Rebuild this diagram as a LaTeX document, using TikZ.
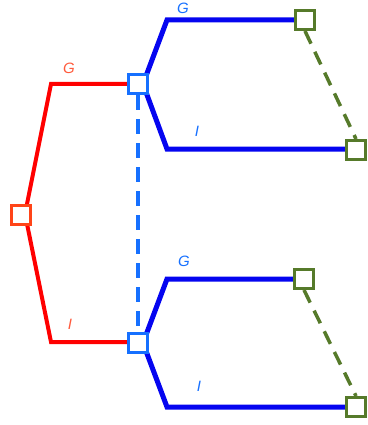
\documentclass[tikz,border=0pt]{standalone}
\usepackage{fontspec}
\setmainfont{Liberation Sans}
\begin{document}
\definecolor{treered}{HTML}{FF0000}
\definecolor{rootsq}{HTML}{FF4418}
\definecolor{redlabel}{HTML}{FF5A3C}
\definecolor{branchblue}{HTML}{0505F0}
\definecolor{infoblue}{HTML}{1670FF}
\definecolor{leafgreen}{HTML}{567A2A}
\begin{tikzpicture}[x=1pt,y=-1pt,
  redline/.style={draw=treered,line width=4pt,line join=miter},
  blueline/.style={draw=branchblue,line width=5pt,line join=miter},
  sq/.style={draw,fill=white,line width=3pt,minimum size=19pt,inner sep=0pt,rectangle},
  rootbox/.style={sq,draw=rootsq},
  infobox/.style={sq,draw=infoblue},
  leafbox/.style={sq,draw=leafgreen},
  infodash/.style={draw=infoblue,line width=3.5pt,dash pattern=on 15pt off 9pt},
  leafdash/.style={draw=leafgreen,line width=3.5pt,dash pattern=on 14pt off 9pt},
  lbl/.style={font=\fontsize{15}{15}\selectfont\itshape,inner sep=0pt},
  redlbl/.style={lbl,text=redlabel},
  bluelbl/.style={lbl,text=infoblue}]
\useasboundingbox (0,0) rectangle (367,425);

% branch vertices
\coordinate (r0) at (25,214);
\coordinate (rc1) at (51,84);
\coordinate (rc2) at (51,342);
\coordinate (a0) at (143,84);
\coordinate (b0) at (143,343);
\coordinate (ac1) at (167,20);
\coordinate (ac2) at (167,149);
\coordinate (bc1) at (167,279);
\coordinate (bc2) at (167,407);

% chance branches
\draw[redline] (r0) -- (rc1) -- (138,84);
\draw[redline] (r0) -- (rc2) -- (138,342);

% decision branches
\draw[blueline] (a0) -- (ac1) -- (305,20);
\draw[blueline] (a0) -- (ac2) -- (356,149);
\draw[blueline] (b0) -- (bc1) -- (304,279);
\draw[blueline] (b0) -- (bc2) -- (356,407);

% nodes
\node[rootbox] (root) at (20.5,214.5) {};
\node[infobox] (d1) at (138,84) {};
\node[infobox] (d2) at (138,343) {};
\node[leafbox] (l1) at (305,20) {};
\node[leafbox] (l2) at (356,150) {};
\node[leafbox] (l3) at (304,279) {};
\node[leafbox] (l4) at (356,407) {};

% information sets
\draw[infodash] (d1.south) -- (d2.north);
\draw[leafdash] (l1.south) -- (l2.north);
\draw[leafdash] (l3.south) -- (l4.north);

% labels
\node[redlbl] (tG) at (69,68) {G};
\node[redlbl] (tI) at (70,324) {I};
\node[bluelbl] (uG) at (183,8) {G};
\node[bluelbl] (uI) at (197,131) {I};
\node[bluelbl] (vG) at (184,261) {G};
\node[bluelbl] (vI) at (199,386) {I};
\end{tikzpicture}
\end{document}
